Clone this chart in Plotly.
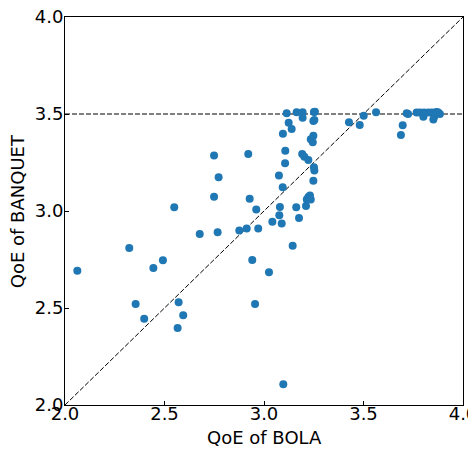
import plotly.graph_objects as go

bola = [2.062, 2.323, 2.444, 2.492, 2.355, 2.398, 2.571, 2.594, 2.566, 2.549,
        2.677, 2.749, 2.772, 2.749, 2.767, 2.876, 2.913, 2.971, 2.921, 2.928,
        2.961, 2.941, 2.955, 3.025, 3.042, 3.097, 3.077, 3.080, 3.089, 3.075,
        3.094, 3.106, 3.107, 3.095, 3.114, 3.124, 3.139, 3.144, 3.162, 3.176,
        3.164, 3.194, 3.194, 3.192, 3.203, 3.223, 3.211, 3.215, 3.223, 3.231,
        3.235, 3.248, 3.251, 3.253, 3.248, 3.235, 3.245, 3.248, 3.253, 3.251,
        3.256, 3.427, 3.481, 3.501, 3.563, 3.688, 3.697, 3.717, 3.724, 3.767,
        3.784, 3.801, 3.804, 3.826, 3.843, 3.851, 3.856, 3.859, 3.876, 3.884,
        3.868]
banquet = [2.692, 2.809, 2.706, 2.746, 2.521, 2.445, 2.529, 2.462, 2.397, 3.019,
           2.881, 3.286, 3.174, 3.074, 2.890, 2.899, 2.910, 2.910, 3.294, 3.063,
           3.008, 2.747, 2.521, 2.684, 2.945, 2.107, 2.978, 3.021, 2.936, 3.183,
           3.122, 3.246, 3.311, 3.398, 3.504, 3.455, 3.423, 2.821, 3.019, 2.964,
           3.509, 3.509, 3.481, 3.294, 3.280, 3.263, 3.026, 3.059, 3.072, 3.080,
           3.059, 3.156, 3.225, 3.209, 3.388, 3.370, 3.354, 3.464, 3.469, 3.510,
           3.512, 3.457, 3.443, 3.491, 3.509, 3.392, 3.442, 3.504, 3.500, 3.508,
           3.508, 3.486, 3.508, 3.508, 3.508, 3.472, 3.487, 3.508, 3.508, 3.500,
           3.510]

axis_range = [2.0, 4.0]
tick_vals = [2.0, 2.5, 3.0, 3.5, 4.0]
tick_text = ["2.0", "2.5", "3.0", "3.5", "4.0"]
ref_level = 3.5
x_label = "QoE of BOLA"
y_label = "QoE of BANQUET"

dash = dict(color="black", width=1, dash="5px,2px")
fig = go.Figure()
fig.add_trace(go.Scatter(x=axis_range, y=axis_range, mode="lines", line=dash,
                         hoverinfo="skip", showlegend=False))
fig.add_trace(go.Scatter(x=axis_range, y=[ref_level, ref_level], mode="lines",
                         line=dash, hoverinfo="skip", showlegend=False))
fig.add_trace(go.Scatter(x=bola, y=banquet, mode="markers",
                         marker=dict(color="#1f77b4", size=8),
                         showlegend=False))

font = dict(family="DejaVu Sans", size=18, color="black")
axis_common = dict(range=axis_range, tickvals=tick_vals, ticktext=tick_text,
                   showgrid=False, zeroline=False, showline=True,
                   linecolor="black", linewidth=1, mirror=True,
                   ticks="inside", ticklen=4, tickcolor="black",
                   tickfont=font, automargin=False, ticklabeloverflow="allow")

fig.update_layout(
    width=468, height=442,
    margin=dict(l=57, r=13, t=9, b=45),
    plot_bgcolor="white", paper_bgcolor="white",
    font=font,
    xaxis=dict(**axis_common, ticklabelstandoff=-8),
    yaxis=dict(**axis_common, ticklabelstandoff=-3),
    annotations=[
        dict(text=x_label, xref="paper", yref="paper", x=0.5, y=-0.085,
             xanchor="center", yanchor="middle", showarrow=False, font=font),
        dict(text=y_label, xref="paper", yref="paper", x=-0.12, y=0.5,
             xanchor="center", yanchor="middle", textangle=-90,
             showarrow=False, font=font),
    ],
)
fig.write_html("out.html")
